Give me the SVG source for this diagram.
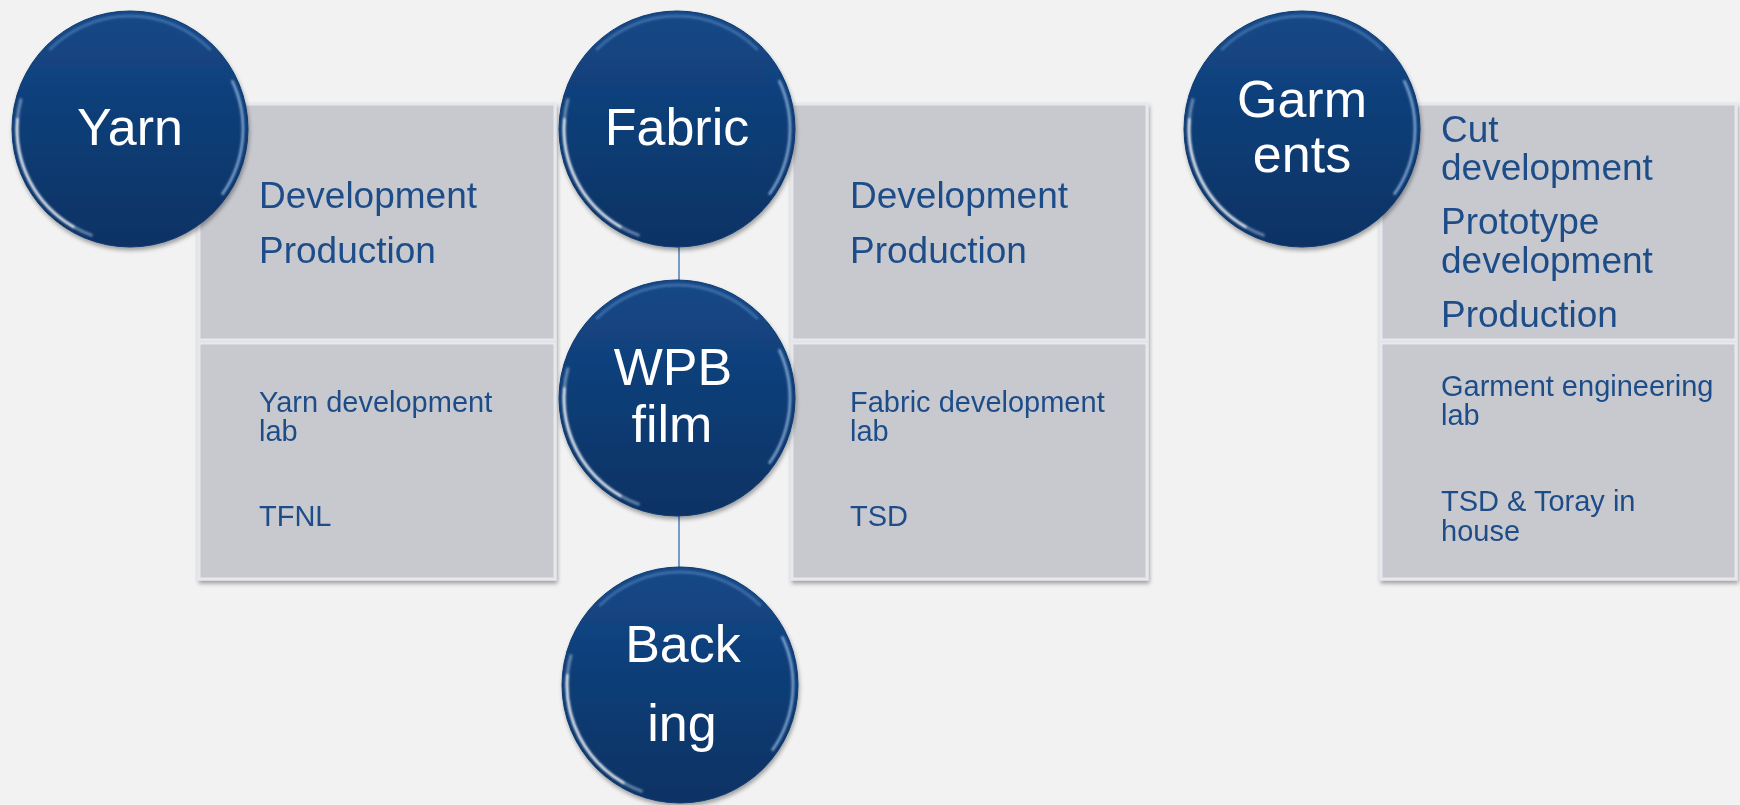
<svg xmlns="http://www.w3.org/2000/svg" width="1740" height="805" viewBox="0 0 1740 805">
<defs>
<linearGradient id="ball" x1="0" y1="0" x2="0" y2="1">
<stop offset="0" stop-color="#144887"/>
<stop offset="1" stop-color="#0b3264"/>
</linearGradient>
<filter id="shadow" x="-10%" y="-10%" width="125%" height="125%">
<feGaussianBlur in="SourceAlpha" stdDeviation="2"/>
<feOffset dx="1" dy="3" result="o"/>
<feComponentTransfer><feFuncA type="linear" slope="0.35"/></feComponentTransfer>
<feMerge><feMergeNode/><feMergeNode in="SourceGraphic"/></feMerge>
</filter>
<filter id="soft" x="-20%" y="-20%" width="140%" height="140%"><feGaussianBlur stdDeviation="0.9"/></filter>
<g id="hl" filter="url(#soft)" fill="none" stroke-linecap="round">
<path d="M -38.6 106.2 A 113 113 0 0 1 -109.2 -29.2" stroke="#d8e8ff" stroke-opacity="0.45" stroke-width="3"/>
<path d="M -56.5 97.9 A 113 113 0 0 1 -112.6 -9.8" stroke="#ffffff" stroke-opacity="0.9" stroke-width="2.5"/>
<path d="M 102.4 -47.8 A 113 113 0 0 1 92.6 64.8" stroke="#a9cdf6" stroke-opacity="0.75" stroke-width="2.5"/>
<path d="M -79.9 -79.9 A 113 113 0 0 1 79.9 -79.9" stroke="#8fb8ea" stroke-opacity="0.35" stroke-width="3"/>
</g>
</defs>
<style>
.box{fill:#c8c9ce;stroke:#e6e8ee;stroke-width:3;}
.ball{fill:url(#ball);stroke:#0d3a72;stroke-width:1;}
.ct{font-family:"Liberation Sans",Arial,sans-serif;font-size:52px;fill:#ffffff;text-anchor:middle;}
.bt{font-family:"Liberation Sans",Arial,sans-serif;font-size:37px;fill:#1f4d89;}
.st{font-family:"Liberation Sans",Arial,sans-serif;font-size:29px;fill:#1f4d89;}
.conn{stroke:#4a7ebb;stroke-width:1.5;fill:none;}
</style>
<rect width="1740" height="805" fill="#f2f2f2"/>

<g id="connectors">
<line class="conn" x1="679" y1="247" x2="679" y2="282"/>
<line class="conn" x1="679" y1="514" x2="679" y2="569"/>
</g>

<g id="yarn-box" filter="url(#shadow)">
<rect class="box" x="199" y="104" width="356" height="236"/>
<rect class="box" x="199" y="343" width="356" height="236"/>
<text class="bt" x="259" y="208">Development</text>
<text class="bt" x="259" y="263">Production</text>
<text class="st" x="259" y="412">Yarn development</text>
<text class="st" x="259" y="441">lab</text>
<text class="st" x="259" y="526">TFNL</text>
</g>

<g id="fabric-box" filter="url(#shadow)">
<rect class="box" x="792" y="104" width="355" height="236"/>
<rect class="box" x="792" y="343" width="355" height="236"/>
<text class="bt" x="850" y="208">Development</text>
<text class="bt" x="850" y="263">Production</text>
<text class="st" x="850" y="412">Fabric development</text>
<text class="st" x="850" y="441">lab</text>
<text class="st" x="850" y="526">TSD</text>
</g>

<g id="garments-box" filter="url(#shadow)">
<rect class="box" x="1381" y="104" width="355" height="236"/>
<rect class="box" x="1381" y="343" width="355" height="236"/>
<text class="bt" x="1441" y="142">Cut</text>
<text class="bt" x="1441" y="180">development</text>
<text class="bt" x="1441" y="234">Prototype</text>
<text class="bt" x="1441" y="273">development</text>
<text class="bt" x="1441" y="327">Production</text>
<text class="st" x="1441" y="396">Garment engineering</text>
<text class="st" x="1441" y="425">lab</text>
<text class="st" x="1441" y="511">TSD &amp; Toray in</text>
<text class="st" x="1441" y="541">house</text>
</g>

<g id="yarn" filter="url(#shadow)">
<circle class="ball" cx="130" cy="129" r="118"/>
<use href="#hl" x="130" y="129"/>
<text class="ct" x="130" y="145">Yarn</text>
</g>

<g id="fabric" filter="url(#shadow)">
<circle class="ball" cx="677" cy="129" r="118"/>
<use href="#hl" x="677" y="129"/>
<text class="ct" x="677" y="145">Fabric</text>
</g>

<g id="wpb-film" filter="url(#shadow)">
<circle class="ball" cx="677" cy="398" r="118"/>
<use href="#hl" x="677" y="398"/>
<text class="ct" x="673" y="385">WPB</text>
<text class="ct" x="672" y="442">film</text>
</g>

<g id="backing" filter="url(#shadow)">
<circle class="ball" cx="680" cy="685" r="118"/>
<use href="#hl" x="680" y="685"/>
<text class="ct" x="683" y="662">Back</text>
<text class="ct" x="682" y="741">ing</text>
</g>

<g id="garments" filter="url(#shadow)">
<circle class="ball" cx="1302" cy="129" r="118"/>
<use href="#hl" x="1302" y="129"/>
<text class="ct" x="1302" y="117">Garm</text>
<text class="ct" x="1302" y="172">ents</text>
</g>
</svg>
